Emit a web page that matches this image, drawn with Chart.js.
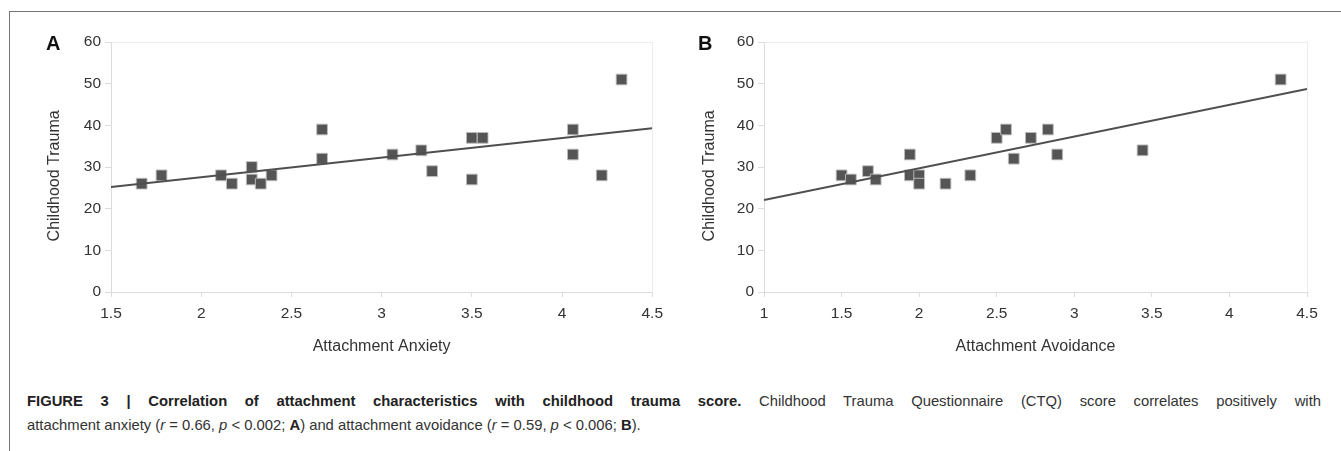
<!DOCTYPE html>
<html>
<head>
<meta charset="utf-8">
<script src="https://cdn.jsdelivr.net/npm/chart.js@4/dist/chart.umd.min.js"></script>
<style>
	html, body { margin: 0; padding: 0; background: #fff; }
	body { width: 1341px; height: 451px; position: relative; overflow: hidden; font-family: 'Liberation Sans', Arial, sans-serif; }
	.frame { position: absolute; left: 9px; top: 11px; right: 0; bottom: 0; border-top: 1px solid #777; border-left: 1px solid #777; }
	.panel { position: absolute; top: 0; }
	.tag { position: absolute; top: 32px; font-weight: bold; font-size: 20px; color: #111; }
	.caption { position: absolute; left: 27px; top: 389px; width: 1294px; font-size: 14.8px; line-height: 24px; color: #333; }
	.caption .l1 { text-align: justify; text-align-last: justify; white-space: nowrap; }
	.caption b { color: #222; }
</style>
</head>
<body>
<div class="frame"></div>
<div class="panel" style="left:0;width:670px;height:356px"><canvas id="chartA"></canvas></div>
<div class="panel" style="left:670px;width:671px;height:356px"><canvas id="chartB"></canvas></div>
<div class="tag" style="left:46px">A</div>
<div class="tag" style="left:698px">B</div>
<div class="caption">
	<div class="l1"><b>FIGURE 3 | Correlation of attachment characteristics with childhood trauma score.</b> Childhood Trauma Questionnaire (CTQ) score correlates positively with</div>
	<div>attachment anxiety (<i>r</i> = 0.66, <i>p</i> &lt; 0.002; <b>A</b>) and attachment avoidance (<i>r</i> = 0.59, <i>p</i> &lt; 0.006; <b>B</b>).</div>
</div>

<script>
// panel A: attachment anxiety vs CTQ
const anxietyX = [1.67, 1.78, 2.11, 2.17, 2.28, 2.28, 2.33, 2.39, 2.67, 2.67, 3.06, 3.22, 3.28, 3.5, 3.56, 3.5, 4.06, 4.06, 4.22, 4.33];
const anxietyY = [26, 28, 28, 26, 30, 27, 26, 28, 39, 32, 33, 34, 29, 37, 37, 27, 39, 33, 28, 51];
const anxietyFitX = [1.5, 4.5];
const anxietyFitY = [25.2, 39.3];

// panel B: attachment avoidance vs CTQ
const avoidanceX = [1.5, 1.56, 1.67, 1.72, 1.94, 1.94, 2.0, 2.0, 2.17, 2.33, 2.5, 2.56, 2.61, 2.72, 2.83, 2.89, 3.44, 4.33];
const avoidanceY = [28, 27, 29, 27, 33, 28, 28, 26, 26, 28, 37, 39, 32, 37, 39, 33, 34, 51];
const avoidanceFitX = [1, 4.5];
const avoidanceFitY = [22.1, 48.7];

const yTicks = [0, 10, 20, 30, 40, 50, 60];
// trailing spaces nudge the rotated title a bit lower, like the original
const yTitle = 'Childhood Trauma    ';

const MARK = '#555555';
const AXIS = '#dcdcdc';
const FONT = "'Liberation Sans', Arial, sans-serif";

function pairs(xs, ys) {
	return xs.map((x, i) => ({ x: x, y: ys[i] }));
}

function makeChart(id, cfg) {
	const canvas = document.getElementById(id);
	return new Chart(canvas, {
		type: 'scatter',
		data: {
			datasets: [
				{
					type: 'line',
					data: pairs(cfg.fitX, cfg.fitY),
					borderColor: '#4f4f4f',
					borderWidth: 2,
					pointRadius: 0,
					fill: false,
					order: 0,
				},
				{
					data: pairs(cfg.xs, cfg.ys),
					pointStyle: 'rect',
					pointRadius: 7.6,
					backgroundColor: MARK,
					borderColor: 'rgba(190,190,190,0.9)',
					borderWidth: 1,
					order: 1,
				},
			],
		},
		options: {
			responsive: true,
			maintainAspectRatio: false,
			animation: false,
			layout: { padding: cfg.pad },
			plugins: { legend: { display: false }, tooltip: { enabled: false } },
			scales: {
				x: {
					type: 'linear',
					min: cfg.xMin,
					max: 4.5,
					afterBuildTicks: (s) => { s.ticks = cfg.xTicks.map((v) => ({ value: v })); },
					afterFit: (s) => { s.height = 64; },
					border: { color: AXIS },
					grid: {
						color: (c) => (c.tick && c.tick.value === 4.5 ? '#ececec' : 'transparent'),
						tickColor: AXIS,
						tickLength: 5,
					},
					ticks: {
						color: '#333',
						font: { size: 15.5, family: FONT },
						padding: 7,
						maxRotation: 0,
						callback: (v) => String(v),
					},
					title: { display: true, text: cfg.xTitle, color: '#333', font: { size: 16, family: FONT }, padding: 0 },
				},
				y: {
					min: 0,
					max: 60,
					afterBuildTicks: (s) => { s.ticks = yTicks.map((v) => ({ value: v })); },
					afterFit: (s) => { s.width = cfg.yWidth; },
					border: { color: AXIS },
					grid: {
						color: (c) => (c.tick && c.tick.value === 60 ? '#ececec' : 'transparent'),
						tickColor: AXIS,
						tickLength: 6,
					},
					ticks: { color: '#333', font: { size: 15.5, family: FONT }, padding: 4 },
					title: { display: true, text: yTitle, color: '#333', font: { size: 16, family: FONT }, padding: { top: 3, bottom: 0 } },
				},
			},
		},
	});
}

makeChart('chartA', {
	xs: anxietyX, ys: anxietyY, fitX: anxietyFitX, fitY: anxietyFitY,
	xMin: 1.5, xTicks: [1.5, 2, 2.5, 3, 3.5, 4, 4.5], xTitle: 'Attachment Anxiety',
	pad: { left: 42, top: 42, right: 16, bottom: 0 }, yWidth: 69,
});

makeChart('chartB', {
	xs: avoidanceX, ys: avoidanceY, fitX: avoidanceFitX, fitY: avoidanceFitY,
	xMin: 1, xTicks: [1, 1.5, 2, 2.5, 3, 3.5, 4, 4.5], xTitle: 'Attachment Avoidance',
	pad: { left: 27, top: 42, right: 34, bottom: 0 }, yWidth: 67,
});
</script>
</body>
</html>
